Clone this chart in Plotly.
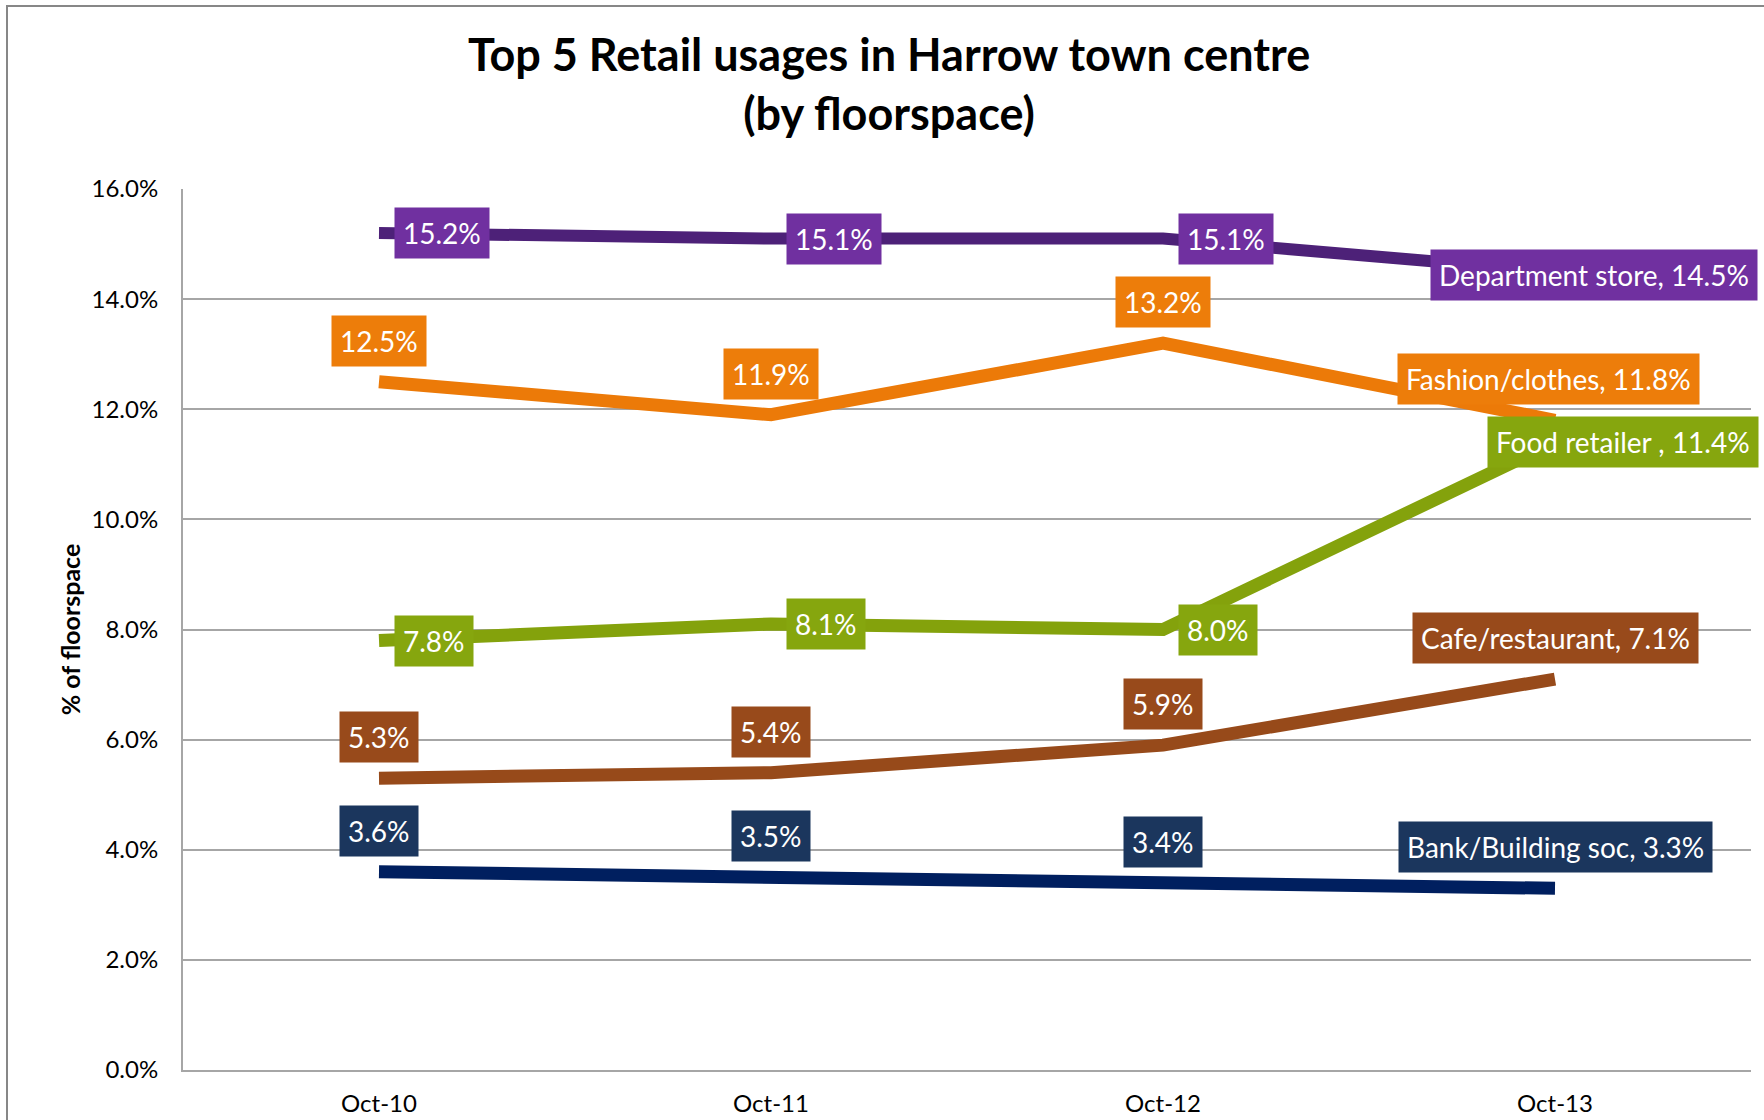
import plotly.graph_objects as go

# ---- data ----
categories = ["Oct-10", "Oct-11", "Oct-12", "Oct-13"]
dept_store = [15.2, 15.1, 15.1, 14.5]
fashion = [12.5, 11.9, 13.2, 11.8]
food = [7.8, 8.1, 8.0, 11.4]
cafe = [5.3, 5.4, 5.9, 7.1]
bank = [3.6, 3.5, 3.4, 3.3]
series_names = ["Department store", "Fashion/clothes", "Food retailer ",
                "Cafe/restaurant", "Bank/Building soc"]
y_ticks = [0, 2, 4, 6, 8, 10, 12, 14, 16]
y_tick_labels = [f"{v:.1f}%" for v in y_ticks]

# ---- styles ----
series_values = [dept_store, fashion, food, cafe, bank]
line_colors = ["#4D2178", "#EC7A08", "#84A20C", "#974A1A", "#001F5F"]
box_colors = ["#7030A0", "#ED7D0A", "#86A60E", "#984A1B", "#1B365D"]
line_widths = [12, 13, 13, 13, 13]
# label placement: "right" or "above"
label_pos = ["right", "above", "right", "above", "above"]
# horizontal shift of last label (Excel pushed them inside chart area)
last_xshift = [-125, -7, -68, 0, 0]
last_yshift = [-3, 0, 0, 0, 0]

FONT = "Lato"

fig = go.Figure()
for name, vals, lc, lw in zip(series_names, series_values, line_colors, line_widths):
    fig.add_trace(go.Scatter(
        x=categories, y=vals, mode="lines", name=name,
        line=dict(color=lc, width=lw), showlegend=False, hoverinfo="skip"))

annotations = []
for si, (name, vals) in enumerate(zip(series_names, series_values)):
    for i, (cat, v) in enumerate(zip(categories, vals)):
        last = i == len(categories) - 1
        text = f"{name}, {v:.1f}%" if last else f"{v:.1f}%"
        ann = dict(x=cat, y=v, xref="x", yref="y", text=text, showarrow=False,
                   font=dict(family=FONT, size=28, color="white"),
                   bgcolor=box_colors[si], borderpad=8)
        if label_pos[si] == "right":
            ann.update(xanchor="left", yanchor="middle", xshift=15)
        else:
            ann.update(xanchor="center", yanchor="bottom", yshift=15)
        if last:
            ann["xshift"] = last_xshift[si]
            ann["yshift"] = ann.get("yshift", 0) + last_yshift[si]
        annotations.append(ann)

# outer chart border (left/top visible, rest cropped)
shapes = [dict(type="rect", xref="paper", yref="paper",
               x0=-176 / 1568, x1=1.2, y0=-0.2, y1=1 + 183 / 881,
               line=dict(color="#878787", width=2), fillcolor="rgba(0,0,0,0)",
               layer="below")]

fig.update_layout(
    width=1764, height=1120,
    margin=dict(l=183, r=13, t=189, b=50, autoexpand=False),
    paper_bgcolor="white", plot_bgcolor="white",
    title=dict(text="Top 5 Retail usages in Harrow town centre<br>(by floorspace)",
               x=0.504, xanchor="center", xref="container",
               y=1 - 71 / 1120, yanchor="top", yref="container",
               font=dict(family=FONT, size=45, color="black", weight="bold")),
    xaxis=dict(type="category", range=[-0.5, 3.5], showgrid=False,
               showline=True, linecolor="#A6A6A6", linewidth=2, ticks="",
               ticklabelstandoff=11, automargin=False,
               tickfont=dict(family=FONT, size=24, color="black")),
    yaxis=dict(range=[0, 16], tickmode="array", tickvals=y_ticks, ticktext=y_tick_labels,
               showgrid=True, gridcolor="#A6A6A6", gridwidth=2,
               showline=True, linecolor="#A6A6A6", linewidth=2, ticks="",
               zeroline=False, ticklabelstandoff=18, automargin=False,
               tickfont=dict(family=FONT, size=24, color="black"),
               title=dict(text="% of floorspace", standoff=4,
                          font=dict(family=FONT, size=25, color="black", weight="bold"))),
    annotations=annotations,
    shapes=shapes,
)

fig.write_html("out.html", config={"displayModeBar": False},
               post_script="document.body.style.margin='0';document.body.style.overflow='hidden';")
